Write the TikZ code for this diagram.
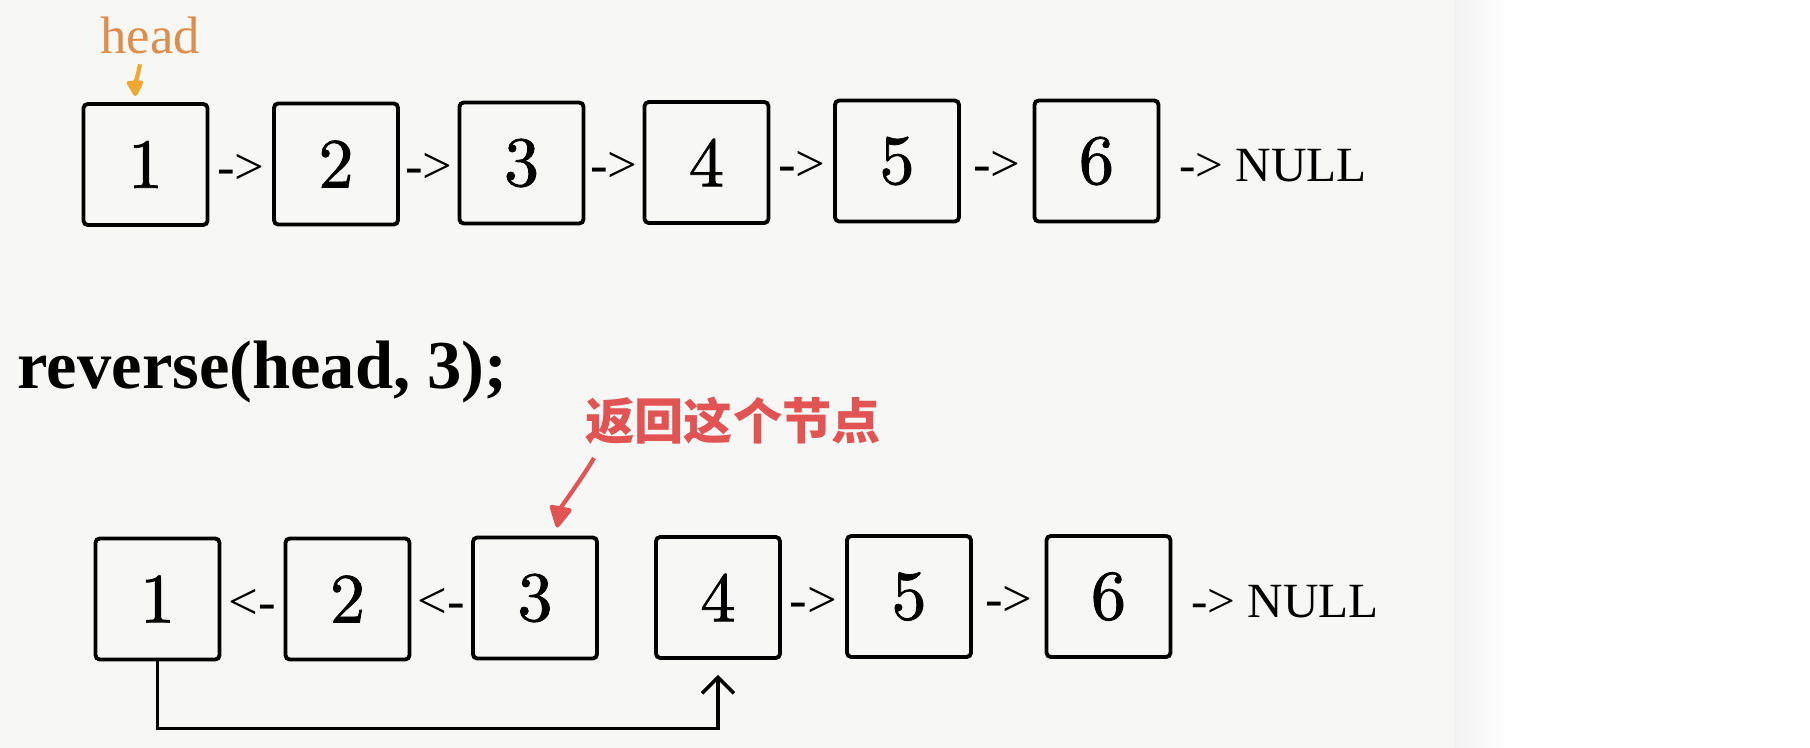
\documentclass[tikz,border=0pt]{standalone}
\usepackage{fontspec}
\newfontfamily\timesfont{Liberation Serif}
\newfontfamily\digitfont{lmroman10-regular.otf}[FakeBold=1.2]
\newfontfamily\cjk{Noto Sans CJK SC}
\usetikzlibrary{arrows.meta,positioning}
\definecolor{paper}{RGB}{247,247,245}
\definecolor{headorange}{RGB}{222,142,76}
\definecolor{arroworange}{RGB}{240,168,48}
\definecolor{notered}{RGB}{226,84,84}
\tikzset{
    cell/.style={draw, line width=1.1pt, rounded corners=1.2pt, minimum width=12.4mm, minimum height=12.1mm, inner sep=0pt, font=\digitfont\fontsize{20}{20}\selectfont},
    link/.style={inner sep=0pt, yshift=-0.5mm, font=\timesfont\fontsize{15}{15}\selectfont},
    nullend/.style={link, font=\timesfont\fontsize{14}{14}\selectfont},
    wire/.style={line width=1pt},
}
\begin{document}
\begin{tikzpicture}[x=0.1mm, y=-0.1mm]
                \useasboundingbox (0,0) rectangle (1810,748);
                \fill[paper] (0,0) rectangle (1454,748);
                \shade[left color=black!5, right color=white] (1454,0) rectangle (1510,748);
                \node[cell] (t1) at (145.5,164.5) {1};
                \node[cell] (t2) at (336,164) {2};
                \node[cell] (t3) at (521.5,163) {3};
                \node[cell] (t4) at (706.5,162.5) {4};
                \node[cell] (t5) at (897,161) {5};
                \node[cell] (t6) at (1096.5,161) {6};
                \foreach \a/\b in {t1/t2,t2/t3,t3/t4,t4/t5,t5/t6}
                    \path (\a) -- (\b) node[link, midway] {->};
                \node[nullend, right=1.8mm of t6] (tnull) {-> NULL};
                \node[font=\timesfont\fontsize{15}{15}\selectfont, text=headorange, anchor=base, inner sep=0pt] (head) at (150,54) {head};
                \draw[arroworange, line width=1.2pt, -{Triangle[length=1.8mm, width=1.8mm, round]}] ([xshift=-1mm, yshift=-0.9mm]head.south) .. controls (138,75) and (135,85) .. ([xshift=-1mm, yshift=0.6mm]t1.north);
                \node[font=\timesfont\bfseries\fontsize{19.5}{19.5}\selectfont, anchor=base west, inner sep=0pt] (call) at (17,389) {reverse(head, 3);};
                \node[cell] (b1) at (157.5,599) {1};
                \node[cell] (b2) at (347.5,599) {2};
                \node[cell] (b3) at (535,598) {3};
                \node[cell] (b4) at (718,597.5) {4};
                \node[cell] (b5) at (909,596.5) {5};
                \node[cell] (b6) at (1108.5,596.5) {6};
                \foreach \a/\b in {b1/b2,b2/b3}
                    \path (\a) -- (\b) node[link, midway] {<-};
                \foreach \a/\b in {b4/b5,b5/b6}
                    \path (\a) -- (\b) node[link, midway] {->};
                \node[nullend, right=1.8mm of b6] (bnull) {-> NULL};
                \node[font=\cjk\bfseries\fontsize{14}{14}\selectfont, text=notered, inner sep=0pt] (ret) at (733,421) {返回这个节点};
                \coordinate (retfrom) at (594,458);
                \draw[notered, line width=1.2pt, -{Triangle[length=2.4mm, width=2.4mm, round]}] (retfrom) .. controls (583,477) and (561,507) .. ([xshift=2.2mm, yshift=0.8mm]b3.north);
                \draw[wire, -{Straight Barb[length=1.6mm, width=3.2mm]}] (b1.south) -- ++(0,67) -| ([yshift=-1.5mm]b4.south);
            \end{tikzpicture}
\end{document}
